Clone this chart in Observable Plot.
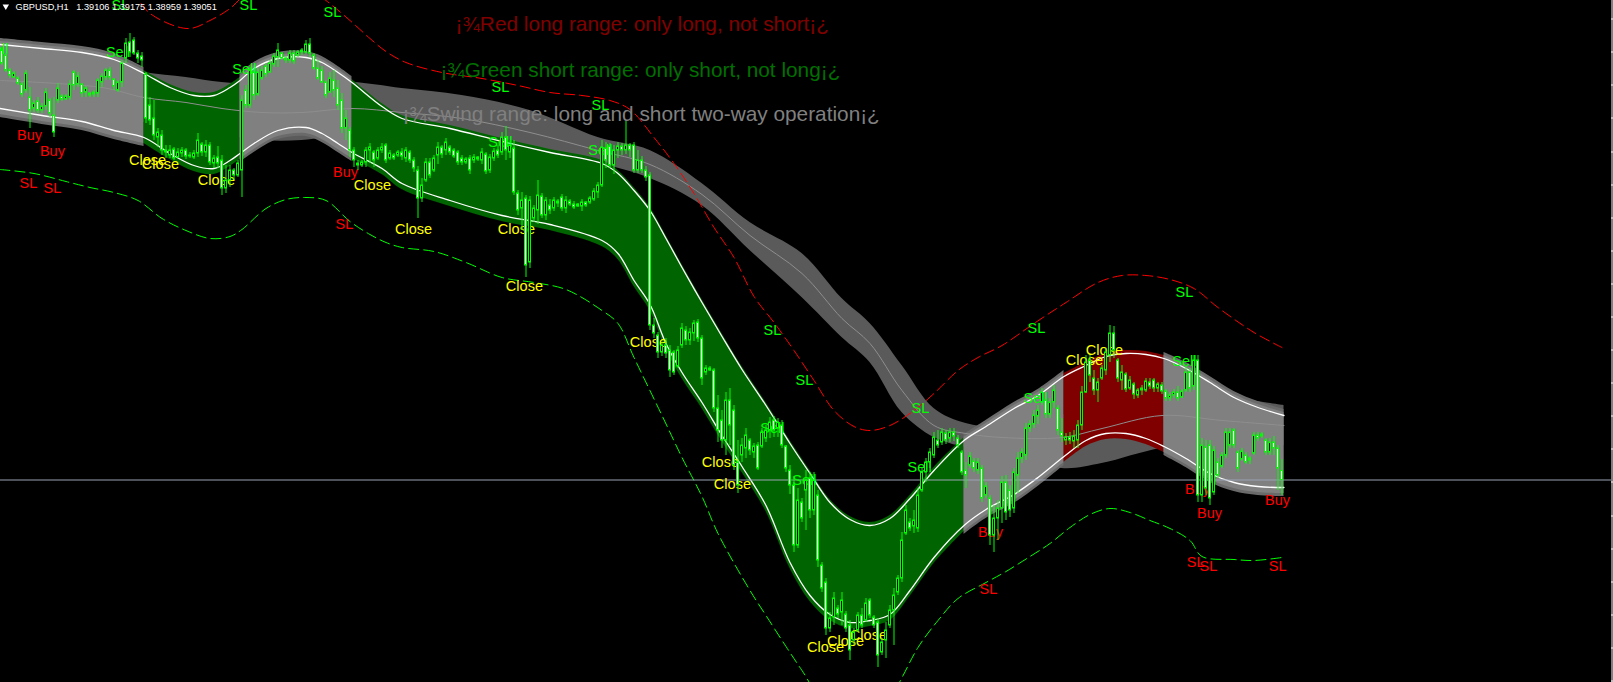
<!DOCTYPE html>
<html><head><meta charset="utf-8">
<script src="https://cdn.jsdelivr.net/npm/d3@7"></script>
<script src="https://cdn.jsdelivr.net/npm/@observablehq/plot@0.6"></script>
<style>html,body{margin:0;padding:0;background:#000;overflow:hidden}</style>
</head><body><div id="chart"></div>
<script>
// GBPUSD H1 candles: [open, high, low, close] in chart price points (one point per pixel row)
const ohlc = [
[632,635,617,619],[627,629,610,612],[612,614,604,607],[605,611,604,609],[604,606,597,599],
[598,600,585,588],[592,612,589,609],[585,595,554,572],[574,582,570,579],[581,585,569,572],
[572,579,569,576],[576,594,572,590],[582,584,565,569],[567,585,545,550],[582,599,579,594],
[586,588,581,583],[583,588,582,586],[585,602,582,598],[610,612,592,597],[598,610,595,606],
[598,599,585,589],[590,596,585,594],[587,590,585,589],[588,592,585,590],[589,604,585,602],
[600,609,595,606],[605,614,602,612],[612,615,602,605],[603,604,592,596],[592,602,590,600],
[600,622,595,619],[624,644,619,639],[640,649,625,630],[642,645,627,629],[629,632,619,624],
[626,630,615,622],[608,610,559,564],[577,585,557,562],[564,582,542,547],[545,554,535,550],
[547,552,527,532],[532,537,524,530],[527,537,524,532],[533,535,522,524],[525,534,524,530],
[529,535,525,532],[532,534,523,526],[527,530,524,526],[525,532,523,529],[529,549,525,542],
[538,540,526,530],[530,542,525,537],[537,540,517,520],[519,527,514,524],[525,536,514,519],
[522,527,487,494],[494,517,489,502],[502,517,495,512],[512,514,502,507],[507,522,505,519],
[512,587,485,582],[592,597,574,577],[577,615,574,612],[610,614,582,587],[588,614,586,610],
[604,616,602,612],[616,619,605,608],[610,622,609,619],[618,629,615,626],[625,639,615,632],
[629,630,622,624],[622,626,619,624],[622,632,619,629],[629,632,618,621],[627,632,625,630],
[630,634,627,632],[630,642,628,638],[638,644,625,629],[627,629,612,614],[614,622,602,604],
[612,616,599,600],[600,602,584,587],[590,610,589,604],[602,612,585,592],[594,602,572,577],
[582,589,549,554],[554,572,542,564],[552,555,525,532],[532,535,515,522],[519,522,512,517],
[517,522,515,520],[520,535,515,532],[532,539,519,535],[530,532,515,522],[524,535,522,532],
[532,539,529,535],[537,539,519,522],[524,532,522,529],[527,529,522,524],[527,532,525,530],
[530,534,522,526],[524,535,520,532],[530,532,519,522],[522,525,510,514],[512,516,464,484],
[484,504,480,497],[502,524,500,520],[520,524,504,507],[512,527,510,524],[527,540,518,535],
[535,537,524,528],[532,544,527,540],[535,537,527,530],[532,534,524,526],[530,532,517,520],
[524,527,517,520],[520,525,518,523],[524,527,508,512],[522,528,519,525],[523,526,521,525],
[522,534,518,530],[528,530,508,511],[512,528,509,525],[524,534,521,531],[532,537,524,527],
[530,550,527,545],[545,556,522,532],[530,542,524,537],[534,542,487,490],[489,492,467,472],
[474,490,452,482],[484,487,405,417],[420,486,414,482],[464,477,460,474],[472,502,458,487],
[486,489,464,467],[467,485,462,482],[477,483,468,472],[474,485,471,482],[479,483,475,481],
[485,488,471,474],[474,486,469,482],[481,483,476,478],[478,481,473,475],[476,479,475,478],
[476,483,471,480],[480,481,475,477],[480,486,478,484],[483,494,481,491],[490,500,484,497],
[497,542,495,535],[534,540,514,522],[536,539,514,517],[517,537,508,532],[532,540,524,536],
[536,539,527,532],[532,561,528,537],[537,539,525,532],[537,540,509,512],[512,532,509,522],
[522,526,509,512],[512,516,501,505],[507,510,352,357],[357,364,344,349],[347,350,324,330],
[330,340,326,337],[337,344,324,329],[332,337,305,312],[330,332,307,310],[316,336,314,332],
[337,359,334,354],[352,356,337,342],[342,354,337,350],[349,362,341,359],[360,363,340,344],
[344,347,297,304],[310,317,307,314],[314,316,311,312],[312,314,270,274],[274,287,240,252],
[262,272,234,242],[242,290,227,282],[282,294,237,257],[272,277,212,217],[220,242,189,197],
[227,244,220,237],[234,254,224,247],[242,244,227,232],[230,239,224,236],[237,240,212,214],
[236,254,234,250],[244,257,240,252],[252,265,244,260],[262,266,245,252],[254,264,245,260],
[257,262,234,237],[236,237,210,214],[212,217,188,197],[197,206,130,137],[137,194,134,182],
[180,184,160,164],[192,212,152,202],[204,210,164,172],[172,210,167,202],[187,192,115,122],
[117,120,90,94],[100,104,47,54],[54,70,50,64],[65,90,57,84],[74,77,64,68],
[70,90,57,82],[68,71,50,54],[57,62,22,32],[42,54,37,50],[52,70,50,67],
[67,74,54,57],[62,84,60,79],[82,84,64,67],[65,67,54,57],[60,64,15,27],
[30,44,27,40],[42,60,24,52],[57,77,54,72],[72,94,37,87],[90,107,87,104],
[104,150,100,142],[149,177,147,172],[160,164,151,154],[156,172,149,162],[154,194,150,187],
[192,214,190,210],[210,224,200,220],[220,234,214,230],[227,250,224,245],[242,252,234,237],
[240,254,237,250],[249,252,238,242],[244,254,240,250],[250,254,241,246],[244,247,234,237],
[230,232,207,210],[212,220,194,207],[217,230,214,226],[221,224,210,214],[212,224,208,220],
[214,217,180,184],[187,200,184,196],[184,187,137,147],[147,177,130,164],[164,182,142,174],
[174,206,159,200],[200,207,162,170],[192,197,165,172],[174,214,169,210],[207,230,189,224],
[224,234,219,230],[227,259,222,254],[254,262,250,258],[258,272,254,267],[266,277,258,272],
[280,294,277,290],[282,284,264,268],[268,284,264,280],[280,297,274,292],[274,277,247,252],
[250,264,240,246],[242,249,237,245],[245,250,238,242],[241,252,234,246],[242,262,234,257],
[257,296,252,290],[290,327,289,320],[322,327,300,307],[304,312,287,292],[292,304,280,300],
[304,317,302,314],[312,334,307,330],[327,357,320,349],[349,356,324,332],[322,324,300,304],
[302,317,292,310],[308,310,290,293],[294,306,292,302],[298,300,283,288],[287,294,284,292],
[292,297,287,294],[292,304,290,301],[300,304,293,296],[302,304,290,294],[294,300,290,298],
[297,300,288,291],[291,293,281,284],[284,290,281,287],[287,293,284,290],[290,296,281,284],
[285,293,284,291],[292,317,290,310],[310,314,290,294],[296,327,292,322],[322,327,180,187],
[187,244,180,237],[235,242,187,194],[237,242,177,184],[190,236,187,232],[220,224,204,207],
[216,230,214,227],[227,254,224,250],[237,254,234,250],[252,254,234,237],[230,232,210,214],
[223,234,221,231],[227,230,218,220],[222,226,218,224],[229,250,227,247],[247,250,241,244],
[246,250,244,248],[242,244,227,230],[230,244,227,240],[240,246,227,234],[234,237,192,214],
[211.5,223,187,202.5]
];

// fast channel (white upper / lower lines), control points by bar
const fastBar = [-0.5,10,20,28,35.5,42,48,53,57,59.5,63,69,76,80,84,87.5,95,100,112,125,137,150,154,158,162,166,170,175,180,185,191,197,202,207,212,217,222,227,233,240.5,246,253,259,265.5,271,276,281,286,290.5,296,302,308,314,320.5];
const fastUp  = [638,634,630,623,609,595,587,587,595,602,614,624,625,620,610,600,576,564,554,541,530,519,509,492,472,444,415,380,346,313,277,239,209,180,163,157,164,184,212,242,256,274,287,306,317,326,329,328,324,314,300,285,275,267];
const fastDn  = [574,567,561,552,545,529,517,514,522,529,539,552,555,549,539,530,514,499,482,467,458,442,429,402,378,339,310,280,247,216,177,120,87,68,60,62,68,92,125,157,173,188,205,226,242,249,249,244,236,224,209,200,196,195];

// slow channel (dark band) with its middle line
const slowBar = [-0.5,25,35.5,46,55,65,75,87.5,100,115,132,149,162,175,187,200,210,217,225,233,241,250,265,275,290,305,320.5];
const slowTop = [627,620,610,605,600,598,598,600,594,587,572,545,532,499,460,429,384,359,317,274,259,255,267,287,302,287,277];
const slowMid = [602,595,585,580,574,570,570,574,570,564,550,532,518,488,447,409,364,339,292,257,249,245,245,254,267,262,257];
const slowBot = [577,570,560,555,548,542,542,548,546,541,528,519,504,477,432,385,345,320,270,245,235,230,214,219,234,237,237];

// regimes of the fast channel
const regimeStart = [-0.5,35.5,59.5,87.5,240.5,265.5,290.5];
const regimeEnd   = [35.5,59.5,87.5,240.5,265.5,290.5,320.5];
const regimeKind  = ["swing","short","swing","short","swing","long","swing"];

// stop-loss dashed lines
const redBar = [25,30,35.5,41,47,52,57,62,72,81,87,92,96,101,110,120,129,137,145,152,157,163,168,173,178,183,188,193,198,203,208,213,217,222,228,233,239,244,250,258,266,274,280,286,292,298,304,313,320];
const redLvl = [760,722,675,660,654,662,674,692,707,682,662,644,631,620,610,604,597,590,587,582,573,545,519,489,455,425,386,360,332,302,272,256,252,257,272,289,312,325,337,359,380,400,407,407,403,394,375,350,335];
const greenBar = [-0.5,8,16,22,28,34,40,46,52,57,60,66,71,76,81,87,92,96,100,108,116,125,133,141,150,154,158,165,170,175,179,187,191,196,200,207,215,222,225,229,234,239,246,251,257,262,267,272,277,282,287,292,297,300,308,313,320];
const greenLvl = [513,509,501,495,490,482,464,452,444,446,453,474,483,485,482,461,448,440,435,431,420,405,400,393,372,359,325,267,225,186,149,92,67,36,12,-28,-38,-16,5,35,62,84,100,111,126,139,155,168,174,170,162,154,142,126,123,122,125];

// signal labels
const labelText = ["Sell","Buy","Buy","SL","SL","Sell","SL","SL","SL","Close","Close","Close","Sell","Buy","Close","SL","Close","Close","Close","SL","SL","Sell","Sell","SL","SL","SL","Close","Sell","Close","Close","Sell","Sell","Buy","SL","Close","Close","Close","Sell","SL","Close","Close","SL","Sell","Buy","Buy","Buy","SL","SL","SL"];
const labelBar  = [-1.4,6.9,12.6,6.6,12.6,29,29.6,61.6,82.6,36.4,39.6,53.6,60.6,85.9,92.6,85.6,102.9,128.6,130.6,124.6,149.6,124.6,149.6,192.6,200.6,229.6,161.6,192.6,179.6,182.6,200.6,229.4,247.1,246.6,205.9,210.9,216.6,258.4,258.6,270.6,275.6,295.6,295.6,298.9,301.9,318.9,298.4,301.6,318.9];
const labelLvl  = [633,547,531,499,494,630,677,677,670,522,518,502,613,510,497,458,453,453,396,595,577,540,532,352,302,274,340,254,220,198,202,215,150,93,35,41,47,284,354,322,332,390,321,193,169,182,120,116,116];
const labelSide = ["S","L","L","L","L","S","S","S","S","X","X","X","S","L","X","L","X","X","X","S","S","S","S","S","S","S","X","S","X","X","S","S","L","L","X","X","X","S","S","X","X","S","S","L","L","L","L","L","L"];

// chart notes
const noteText = ["\u00a1\u00beRed long range: only long, not short\u00a1\u00bf","\u00a1\u00beGreen short range: only short, not long\u00a1\u00bf","\u00a1\u00beSwing range: long and short two-way operation\u00a1\u00bf"];
const noteBar = [113.4,109.6,100.1];
const noteLvl = [658,612.6,568.6];
const noteColor = ["#800000","#007000","#808080"];

const header = "GBPUSD,H1\u00a0\u00a0\u00a01.39106 1.39175 1.38959 1.39051";
const lastClose = 202.5;
const priceTicks = [663.5,630.5,597.5,564.5,530.5,497.5,464.5,431.5,398.5,365.5,332.5,299.5,266.5,233.5,200.5,166.5,133.5,100.5,67.5,34.5,1.5];

const regimeFill = {swing:"#808080", short:"#006400", long:"#800000"};
const sideColor = {L:"#ff0000", S:"#00ff00", X:"#ffff00"};

const bars = ohlc.map(([o,h,l,c], i) => ({i,o,h,l,c}));
const fast = fastBar.map((i,k) => ({i, u: fastUp[k], d: fastDn[k]}));
const slow = slowBar.map((i,k) => ({i, t: slowTop[k], m: slowMid[k], b: slowBot[k]}));
const red = redBar.map((i,k) => ({i, v: redLvl[k]}));
const green = greenBar.map((i,k) => ({i, v: greenLvl[k]}));
const labels = labelText.map((t,k) => ({t, i: labelBar[k], v: labelLvl[k], c: sideColor[labelSide[k]]}));
const notes = noteText.map((t,k) => ({t, i: noteBar[k], v: noteLvl[k], c: noteColor[k]}));

const segMarks = regimeStart.flatMap((a,k) => {
  const b = regimeEnd[k], kind = regimeKind[k];
  const pts = fast.filter(p => p.i >= a && p.i <= b);
  const out = [];
  if (kind === "swing") out.push(Plot.areaY(pts, {x:"i", y1: d => d.d - 9, y2: d => d.u + 6, fill:"#6a6a6a", curve:"catmull-rom"}));
  out.push(Plot.areaY(pts, {x:"i", y1: d => d.d - 6, y2: d => d.u + 3, fill: regimeFill[kind], curve:"catmull-rom"}));
  return out;
});

const chart = Plot.plot({
  width: 1613, height: 682,
  marginTop: 0, marginBottom: 0, marginLeft: 0, marginRight: 2,
  x: {type:"linear", domain:[-0.375, 402.375], axis:null},
  y: {type:"linear", domain:[0, 682], axis:null},
  style: {background:"#000", fontFamily:"'Liberation Sans', Arial, sans-serif"},
  marks: [
    Plot.areaY(slow, {x:"i", y1:"b", y2:"t", fill:"#5a5a5a", curve:"catmull-rom"}),
    ...segMarks,
    Plot.line(slow, {x:"i", y:"m", stroke:"#8e8e8e", strokeWidth:1, curve:"catmull-rom"}),
    Plot.line(fast, {x:"i", y:"u", stroke:"#ffffff", strokeWidth:1.3, curve:"catmull-rom"}),
    Plot.line(fast, {x:"i", y:"d", stroke:"#ffffff", strokeWidth:1.3, curve:"catmull-rom"}),
    Plot.line(red, {x:"i", y:"v", stroke:"#ff0000", strokeWidth:1, strokeDasharray:"10,5", curve:"catmull-rom", clip:true}),
    Plot.line(green, {x:"i", y:"v", stroke:"#00ff00", strokeWidth:1, strokeDasharray:"10,5", curve:"catmull-rom", clip:true}),
    Plot.ruleY([lastClose], {stroke:"#9aa4b4", strokeWidth:1}),
    Plot.text(labels, {x:"i", y:"v", text:"t", fill:"c", fontSize:14.5, textAnchor:"middle", lineAnchor:"middle"}),
    Plot.ruleX(bars, {x:"i", y1:"l", y2:"h", stroke:"#00ff00", strokeWidth:1}),
    Plot.rect(bars, {x1: d => d.i - 0.25, x2: d => d.i + 0.25, y1:"o", y2:"c", fill: d => d.c < d.o ? "#ffffff" : "#000000", stroke:"#00ff00", strokeWidth:1, inset:0}),
    Plot.text(notes, {x:"i", y:"v", text:"t", fill:"c", fontSize:20.8, textAnchor:"start", lineAnchor:"middle"}),
    Plot.dot([0], {frameAnchor:"top-left", dx:5.3, dy:5.8, symbol:"triangle", rotate:180, r:2.4, fill:"#ffffff", stroke:null}),
    Plot.text([header], {frameAnchor:"top-left", dx:15, dy:3, text: d => d, fill:"#ffffff", fontSize:9.2, textAnchor:"start", lineAnchor:"top"}),
    Plot.ruleX([402.375], {stroke:"#ffffff", dx:0.5}),
    Plot.ruleY(priceTicks, {x1:402.375, x2:402.875, stroke:"#ffffff"})
  ]
});
document.getElementById("chart").append(chart);
</script></body></html>
